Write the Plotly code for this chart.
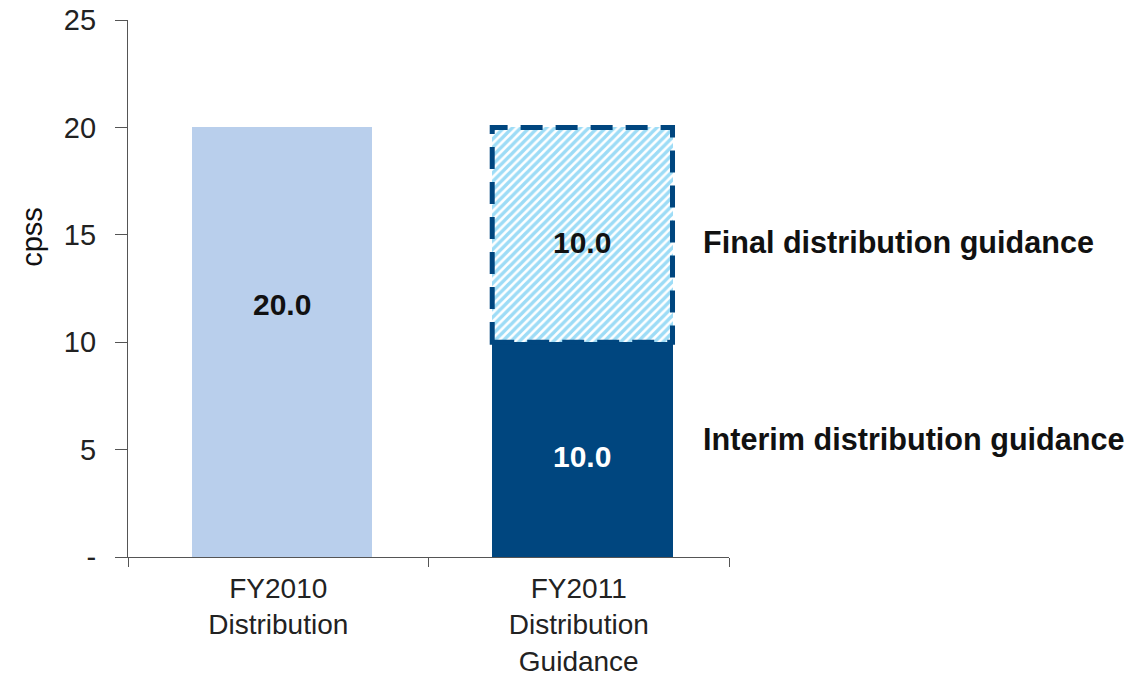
import plotly.graph_objects as go

# Distribution per stapled security (cents), by period
categories = ["FY2010<br>Distribution", "FY2011<br>Distribution<br>Guidance"]
fy2010_distribution = [20.0, None]
interim_guidance = [None, 10.0]
final_guidance = [None, 10.0]

y_tickvals = [0, 5, 10, 15, 20, 25]
y_ticktext = ["-", "5", "10", "15", "20", "25"]

series_labels = {"interim": "Interim distribution guidance",
                 "final": "Final distribution guidance"}

LIGHT = "#b9cfec"
DARK = "#00467f"
HATCH = "#3cb9ee"
FONT = "Liberation Sans, Arial, sans-serif"
BAR_W = 0.6
BAR_OFFSET = -BAR_W / 2 + 0.012

fig = go.Figure()

fig.add_trace(go.Bar(
    x=categories, y=fy2010_distribution, width=BAR_W, offset=BAR_OFFSET,
    marker=dict(color=LIGHT, line=dict(width=0)),
    showlegend=False,
))

fig.add_trace(go.Bar(
    x=categories, y=interim_guidance, width=BAR_W, offset=BAR_OFFSET,
    marker=dict(color=DARK, line=dict(width=0)),
    showlegend=False,
))

fig.add_trace(go.Bar(
    x=categories, y=final_guidance, width=BAR_W, offset=BAR_OFFSET,
    marker=dict(color="white", line=dict(width=0),
                pattern=dict(shape="/", fgcolor=HATCH, bgcolor="white",
                             size=6, solidity=0.58, fillmode="overlay")),
    showlegend=False,
))

idx = 1
base = interim_guidance[idx]
top = base + final_guidance[idx]
x_left = idx + BAR_OFFSET
x_right = x_left + BAR_W
x_mid = (x_left + x_right) / 2

# Dashed outline around the final guidance segment
fig.add_shape(type="rect", xref="x", yref="y",
              x0=x_left, x1=x_right, y0=base, y1=top,
              line=dict(color=DARK, width=5, dash="22px,13px"),
              fillcolor="rgba(0,0,0,0)", layer="above")

# Value labels on the bars
value_font = dict(family=FONT, size=30, weight=600)
fig.add_annotation(x=x_mid - 1, y=fy2010_distribution[0] / 2, xref="x", yref="y",
                   text=f"{fy2010_distribution[0]:.1f}", showarrow=False, yshift=38,
                   font=dict(**value_font, color="#111111"))
fig.add_annotation(x=x_mid, y=base + final_guidance[idx] / 2, xref="x", yref="y",
                   text=f"{final_guidance[idx]:.1f}", showarrow=False, yshift=-8,
                   font=dict(**value_font, color="#111111"))
fig.add_annotation(x=x_mid, y=interim_guidance[idx] / 2, xref="x", yref="y",
                   text=f"{interim_guidance[idx]:.1f}", showarrow=False, yshift=-7,
                   font=dict(**value_font, color="white"))

# Segment labels on the right
fig.add_annotation(x=1.407, y=base + final_guidance[idx] / 2, xref="x", yref="y",
                   text=f"<b>{series_labels['final']}</b>", showarrow=False,
                   xanchor="left", yanchor="middle", yshift=-8,
                   font=dict(family=FONT, size=30.6, color="#111111"))
fig.add_annotation(x=1.407, y=interim_guidance[idx] / 2, xref="x", yref="y",
                   text=f"<b>{series_labels['interim']}</b>", showarrow=False,
                   xanchor="left", yanchor="middle", yshift=10,
                   font=dict(family=FONT, size=30.6, color="#111111"))

# Axis title
fig.add_annotation(x=-0.16, y=0.596, xref="paper", yref="paper",
                   text="cpss", showarrow=False, textangle=-90,
                   xanchor="center", yanchor="middle",
                   font=dict(family=FONT, size=29, color="#111111"))

fig.update_layout(
    width=1132, height=676,
    margin=dict(l=128, r=403, t=20, b=119, autoexpand=False),
    barmode="stack",
    plot_bgcolor="white", paper_bgcolor="white",
    font=dict(family=FONT, color="#333333"),
    xaxis=dict(
        type="category", range=[-0.5, 1.5],
        showline=True, linecolor="#555555", linewidth=1.2,
        ticks="outside", tickson="boundaries", ticklen=9, tickcolor="#555555",
        tickfont=dict(family=FONT, size=28, color="#222222"),
        ticklabelstandoff=6,
        showgrid=False, zeroline=False, automargin=False,
    ),
    yaxis=dict(
        range=[0, 25], tickvals=y_tickvals, ticktext=y_ticktext,
        showline=True, linecolor="#555555", linewidth=1.2,
        ticks="outside", ticklen=12, tickcolor="#555555",
        tickfont=dict(family=FONT, size=29, color="#222222"),
        ticklabelstandoff=13,
        showgrid=False, zeroline=False, automargin=False,
    ),
)

fig.write_html("out.html")
